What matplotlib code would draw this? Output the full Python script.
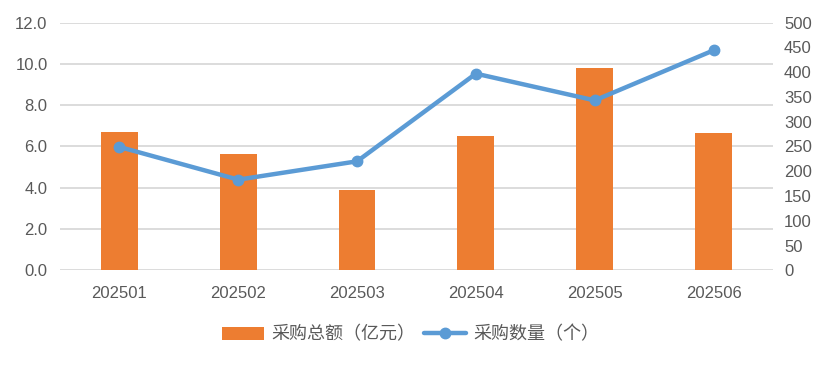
import matplotlib
matplotlib.use("Agg")
import matplotlib.pyplot as plt
import numpy as np

plt.rcParams['font.family'] = ['Liberation Sans', 'Noto Sans CJK SC', 'DejaVu Sans']

categories = ['202501', '202502', '202503', '202504', '202505', '202506']
amount = [6.70, 5.63, 3.89, 6.50, 9.80, 6.65]      # 采购总额（亿元）
count = [249, 183, 220, 397, 343, 444]            # 采购数量（个）
left_ticks = [0, 2, 4, 6, 8, 10, 12]
right_ticks = list(range(0, 501, 50))

fig = plt.figure(figsize=(8.28, 3.65), dpi=100)
ax = fig.add_axes([0.0725, 0.2595, 0.861, 0.6785])
ax2 = ax.twinx()

x = np.arange(len(categories))
ax.bar(x, amount, width=0.31, color='#ED7D31', zorder=2, label='采购总额（亿元）')
ax2.plot(x, count, color='#5B9BD5', lw=3.2, marker='o', ms=7.5, zorder=3,
         label='采购数量（个）', solid_capstyle='round')

ax.set_xlim(-0.5, len(categories) - 0.5)
ax.set_ylim(0, 12)
ax2.set_ylim(0, 500)
ax.set_yticks(left_ticks)
ax.set_yticklabels([f'{v:.1f}' for v in left_ticks])
ax2.set_yticks(right_ticks)
ax2.set_yticklabels([str(v) for v in right_ticks])
ax.set_xticks(x)
ax.set_xticklabels(categories)

ax.grid(axis='y', color='#D9D9D9', lw=1.3, zorder=0)
ax.set_axisbelow(True)
for a in (ax, ax2):
    for s in a.spines.values():
        s.set_visible(False)
    a.tick_params(length=0, labelsize=12, labelcolor='#595959')
ax.tick_params(axis='y', pad=9)
ax2.tick_params(axis='y', pad=8)
ax.tick_params(axis='x', pad=11)

h1, l1 = ax.get_legend_handles_labels()
h2, l2 = ax2.get_legend_handles_labels()
fig.legend(h1 + h2, l1 + l2, loc='center', bbox_to_anchor=(0.496, 0.082), ncol=2,
           frameon=False, fontsize=13, labelcolor='#595959', handlelength=2.3,
           handletextpad=0.4, columnspacing=0.5)

fig.savefig('out.png', dpi=100)
